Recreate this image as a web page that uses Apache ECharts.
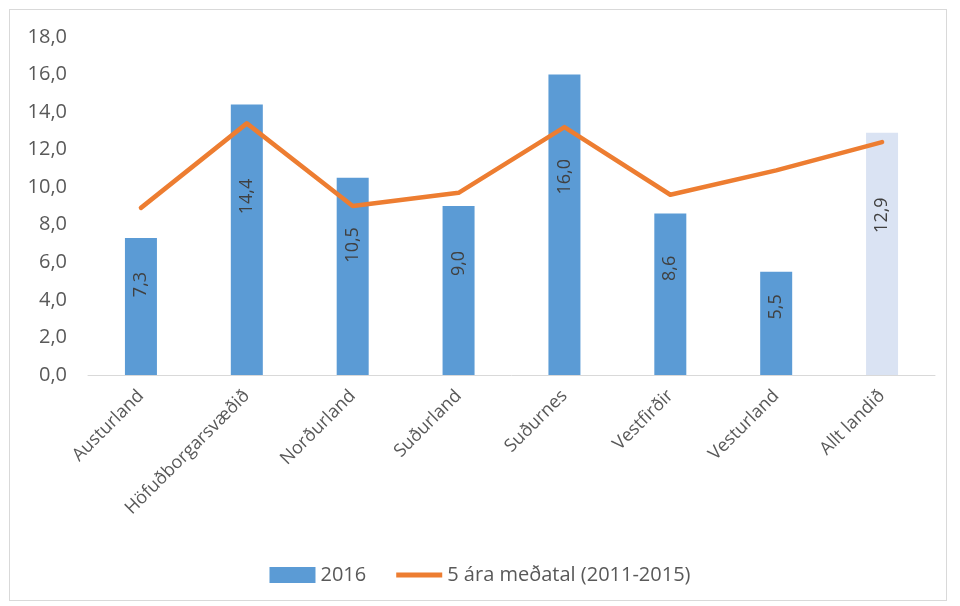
<!DOCTYPE html>
<html>
<head>
<meta charset="utf-8">
<script src="https://cdn.jsdelivr.net/npm/echarts@6/dist/echarts.min.js"></script>
<style>
  html, body { margin: 0; padding: 0; background: #fff; }
  #myChart { width: 960px; height: 606px; }
  .frame { position: absolute; left: 9px; top: 9px; width: 936px; height: 590px; border: 1px solid #d9d9d9; pointer-events: none; }
</style>
</head>
<body>
<div id="myChart"></div>
<div class="frame"></div>
<script>
// gögn
const categories = ['Austurland', 'Höfuðborgarsvæðið', 'Norðurland', 'Suðurland', 'Suðurnes', 'Vestfirðir', 'Vesturland', 'Allt landið']
const values2016 = [7.3, 14.4, 10.5, 9.0, 16.0, 8.6, 5.5, 12.9]
const avg5yr = [8.9, 13.4, 9.0, 9.7, 13.2, 9.6, 10.9, 12.4]
const yTicks = [0, 2, 4, 6, 8, 10, 12, 14, 16, 18]

const fmt = v => v.toFixed(1).replace('.', ',')
const font = '"Open Sans", "Liberation Sans", sans-serif'

let myChart = echarts.init(document.getElementById('myChart'))
myChart.setOption({
  animation: false,
  textStyle: { fontFamily: font },
  grid: { left: 88, right: 25, top: 37, bottom: 231 },
  legend: {
    bottom: 16,
    left: 'center',
    itemGap: 30,
    itemWidth: 46,
    itemHeight: 16,
    textStyle: { fontSize: 20, color: '#595959', fontFamily: font },
    data: [
      { name: '2016', icon: 'rect', itemStyle: { color: '#5b9bd5' } },
      { name: '5 ára meðatal (2011-2015)', icon: 'path://M0,0 L46,0 L46,5 L0,5 Z', itemStyle: { color: '#ed7d31' } }
    ]
  },
  xAxis: {
    type: 'category',
    data: categories,
    axisLine: { lineStyle: { color: '#d9d9d9', width: 1 } },
    axisTick: { show: false },
    axisLabel: { rotate: 45, fontSize: 18, color: '#595959', interval: 0, margin: 18 }
  },
  yAxis: {
    type: 'value',
    min: yTicks[0],
    max: yTicks[yTicks.length - 1],
    interval: 2,
    splitLine: { show: false },
    axisLine: { show: false },
    axisTick: { show: false },
    axisLabel: { fontSize: 20, color: '#595959', margin: 21, formatter: fmt }
  },
  series: [
    {
      name: '2016',
      type: 'bar',
      barWidth: 32,
      itemStyle: { color: '#5b9bd5' },
      data: values2016.map((v, i) => i === values2016.length - 1
        ? { value: v, itemStyle: { color: '#dae3f3' } }
        : v),
      label: {
        show: true,
        position: ['50%', '34%'],
        rotate: 90,
        align: 'center',
        verticalAlign: 'middle',
        fontSize: 18,
        color: '#404040',
        formatter: p => fmt(p.value)
      }
    },
    {
      name: '5 ára meðatal (2011-2015)',
      type: 'line',
      data: avg5yr,
      showSymbol: false,
      symbol: 'none',
      lineStyle: { color: '#ed7d31', width: 4.5, cap: 'round', join: 'round' },
      itemStyle: { color: '#ed7d31' },
      z: 3
    }
  ]
})
</script>
</body>
</html>
